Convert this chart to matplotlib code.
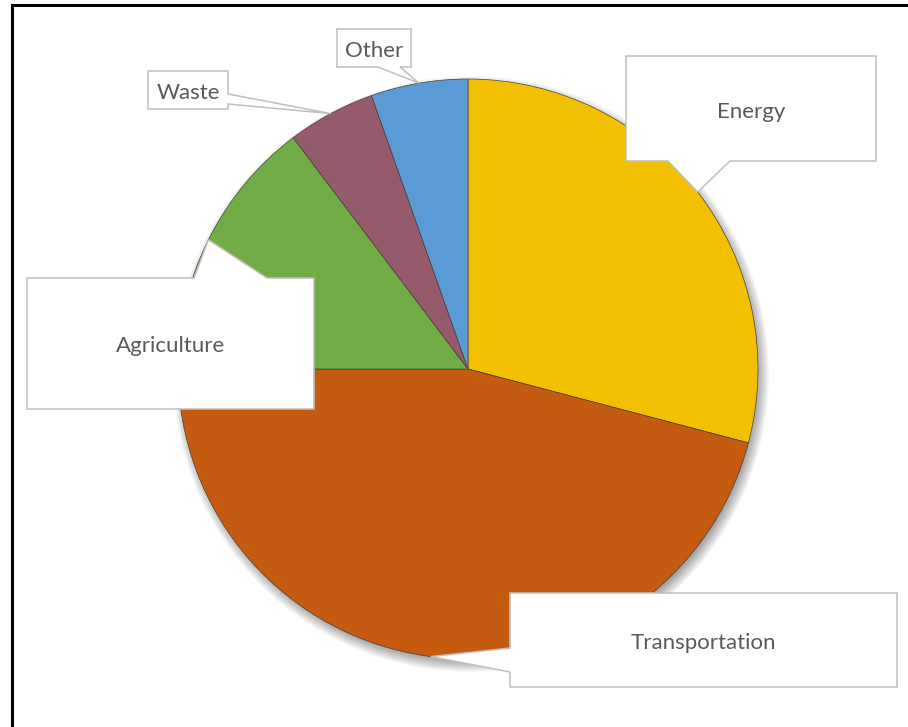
import numpy as np
import matplotlib.pyplot as plt
from matplotlib.patches import Polygon, Circle

sectors = ['Energy', 'Transportation', 'Agriculture', 'Waste', 'Other']
shares = [29.1, 45.9, 14.7, 4.9, 5.4]
colors = ['#F2C000', '#C55A11', '#70AD47', '#955A6B', '#5B9BD5']

W, H = 908, 727
fig = plt.figure(figsize=(W / 100, H / 100), dpi=100)
ax = fig.add_axes([0, 0, 1, 1])

cx, cy, r = 468, H - 369, 290

# soft drop shadow under the pie
for i in range(16):
    ax.add_patch(Circle((cx + 3, cy - 5), r + 8 - i, color='black',
                        alpha=0.03, lw=0, zorder=1))

wedges, _ = ax.pie(shares, colors=colors, startangle=90, counterclock=False,
                   center=(cx, cy), radius=r, frame=True,
                   wedgeprops=dict(edgecolor='#4a4030', linewidth=0.5, zorder=2))

ax.set_xlim(0, W)
ax.set_ylim(0, H)
ax.axis('off')

# callout boxes: (left, top, right, bottom) in pixels from top-left, tail side, tail base
callouts = {
    'Energy': ((626, 56, 876, 161), 'bottom', (668, 730)),
    'Transportation': ((510, 593, 897, 687), 'left', (648, 672)),
    'Agriculture': ((27, 278, 314, 409), 'top', (194, 267)),
    'Waste': ((148, 71, 228, 109), 'right', (94, 104)),
    'Other': ((337, 29, 411, 67), 'bottom', (378, 400)),
}


def callout_verts(box, side, base, tip):
    x0, y0, x1, y1 = box
    y0, y1 = H - y0, H - y1
    a, b = base
    if side == 'top':
        return [(x0, y0), (a, y0), tip, (b, y0), (x1, y0), (x1, y1), (x0, y1)]
    if side == 'right':
        a, b = H - a, H - b
        return [(x0, y0), (x1, y0), (x1, a), tip, (x1, b), (x1, y1), (x0, y1)]
    if side == 'bottom':
        return [(x0, y0), (x1, y0), (x1, y1), (b, y1), tip, (a, y1), (x0, y1)]
    a, b = H - a, H - b
    return [(x0, y0), (x1, y0), (x1, y1), (x0, y1), (x0, b), tip, (x0, a)]


for name, w in zip(sectors, wedges):
    mid = np.deg2rad((w.theta1 + w.theta2) / 2)
    tip = (cx + r * np.cos(mid), cy + r * np.sin(mid))
    box, side, base = callouts[name]
    ax.add_patch(Polygon(callout_verts(box, side, base, tip), closed=True,
                         facecolor='white', edgecolor='#BFBFBF', lw=1.1,
                         joinstyle='miter', zorder=3))
    ax.text((box[0] + box[2]) / 2, H - (box[1] + box[3]) / 2 - 3, name,
            ha='center', va='center', fontsize=16, color='#595959',
            family='Lato', zorder=4)

# chart border
ax.plot([12, 12, W + 5], [-5, H - 5, H - 5], color='black', lw=2.2,
        solid_joinstyle='miter', clip_on=False, zorder=5)

fig.savefig('out.png', dpi=100)
